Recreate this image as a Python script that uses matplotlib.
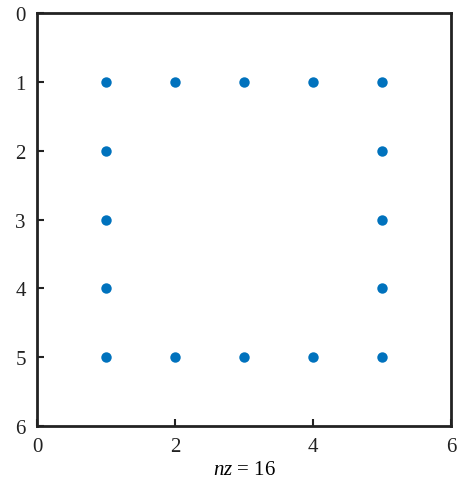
import numpy as np
import matplotlib.pyplot as plt

plt.rcParams['font.family'] = ['Liberation Serif', 'DejaVu Serif']
plt.rcParams['mathtext.fontset'] = 'custom'
plt.rcParams['mathtext.it'] = 'Liberation Serif:italic'
plt.rcParams['mathtext.rm'] = 'Liberation Serif'

# nonzero entries of the 5x5 matrix (column, row)
cols = [1, 2, 3, 4, 5, 1, 5, 1, 5, 1, 5, 1, 2, 3, 4, 5]
rows = [1, 1, 1, 1, 1, 2, 2, 3, 3, 4, 4, 5, 5, 5, 5, 5]
ticks = [0, 2, 4, 6]
yticks = [0, 1, 2, 3, 4, 5, 6]

fig = plt.figure(figsize=(4.58, 4.85), dpi=100)
ax = fig.add_axes([0.0808, 0.1196, 0.9039, 0.8515])

ax.plot(cols, rows, 'o', color='#0072BD', markersize=7.5, markeredgewidth=0)

ax.set_xlim(0, 6)
ax.set_ylim(6, 0)
ax.set_xticks(ticks)
ax.set_yticks(yticks)
ax.tick_params(direction='in', length=5, width=1.5, labelsize=15, colors='#222222')
ax.tick_params(axis='x', pad=8)
ax.tick_params(axis='y', pad=8)
for s in ax.spines.values():
    s.set_linewidth(2)
    s.set_color('#222222')
ax.set_xlabel(r'$nz$ = 16', fontsize=15, labelpad=3)

fig.savefig('out.png', dpi=100)
